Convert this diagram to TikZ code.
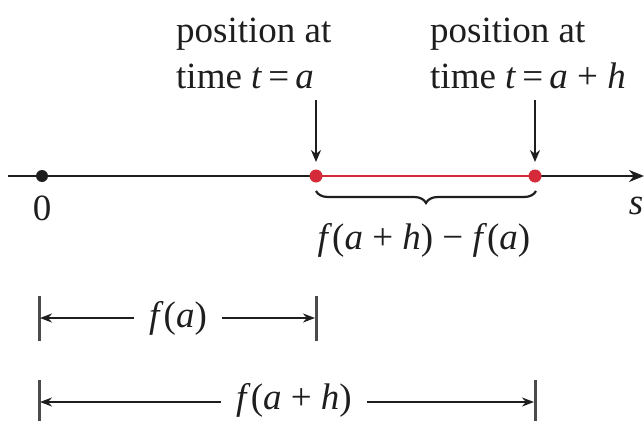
\documentclass[tikz,border=0pt]{standalone}
\usepackage{fontspec}
\setmainfont{Liberation Serif}
\usetikzlibrary{arrows.meta,decorations.pathreplacing}
\definecolor{ink}{HTML}{1E1E1E}
\definecolor{segred}{HTML}{D42A3A}
\tikzset{
  txt/.style={font=\fontsize{37}{44}\selectfont, text=ink, inner sep=0pt},
  dimlab/.style={txt, inner xsep=15pt},
  dot/.style={circle, fill=ink, inner sep=0pt, minimum size=12pt},
  rdot/.style={circle, fill=segred, inner sep=0pt, minimum size=13pt},
  axisline/.style={line width=2.4pt, draw=ink},
  ptr/.style={line width=2.2pt, draw=ink, -{Stealth[length=12pt,width=10pt]}},
  dimarrow/.style={line width=2.2pt, draw=ink, -{Stealth[length=12pt,width=9pt]}},
  tick/.style={line width=3pt, draw=ink!80},
}
\begin{document}
\begin{tikzpicture}[x=1pt,y=-1pt]
\useasboundingbox (0,0) rectangle (644,420);
% top labels
\node[txt, anchor=base west] (l1) at (176,43) {position at};
\node[txt, anchor=base west] (l2) at (176,88) {time \textit{t}\,=\,\textit{a}};
\node[txt, anchor=base west] (r1) at (430,43) {position at};
\node[txt, anchor=base west] (r2) at (430,88) {time \textit{t}\,=\,\textit{a} + \textit{h}};
% axis
\coordinate (L) at (8,176);
\coordinate (R) at (644,176);
\draw[axisline, -{Stealth[length=15pt,width=12pt]}] (L) -- (R);
\coordinate (Ap) at (316,176);
\coordinate (Bp) at (535,176);
\draw[line width=2.6pt, segred] (Ap) -- (Bp);
\node[dot] (O) at (42,176) {};
\node[rdot] (A) at (Ap) {};
\node[rdot] (B) at (Bp) {};
\node[txt] (zero) at (42,208) {0};
\node[txt] (s) at (636,206) {\textit{s}};
% pointers
\coordinate (At) at (316,100);
\coordinate (Bt) at (535,100);
\coordinate (Ae) at (316,162);
\coordinate (Be) at (535,162);
\draw[ptr] (At) -- (Ae);
\draw[ptr] (Bt) -- (Be);
% brace
\coordinate (b1) at (316,191);
\coordinate (b2) at (536,191);
\draw[line width=2.2pt, ink, decorate, decoration={brace, mirror, amplitude=12pt}] (b1) -- (b2);
\node[txt] (diff) at (424,240) {\textit{f}(\textit{a} + \textit{h}) − \textit{f}(\textit{a})};
% dimension f(a)
\coordinate (t1a) at (39,296);
\coordinate (t1b) at (39,341);
\coordinate (t2a) at (316,296);
\coordinate (t2b) at (316,341);
\draw[tick] (t1a) -- (t1b);
\draw[tick] (t2a) -- (t2b);
\coordinate (d1l) at (40,318);
\coordinate (d1r) at (315,318);
\node[dimlab] (fa) at (178,318) {\textit{f}(\textit{a})};
\draw[dimarrow] (fa.west |- d1l) -- (d1l);
\draw[dimarrow] (fa.east |- d1r) -- (d1r);
% dimension f(a+h)
\coordinate (t3a) at (39,380);
\coordinate (t3b) at (39,424);
\coordinate (t4a) at (535,380);
\coordinate (t4b) at (535,424);
\draw[tick] (t3a) -- (t3b);
\draw[tick] (t4a) -- (t4b);
\coordinate (d2l) at (40,402);
\coordinate (d2r) at (534,402);
\node[dimlab] (fah) at (294,400) {\textit{f}(\textit{a} + \textit{h})};
\draw[dimarrow] (fah.west |- d2l) -- (d2l);
\draw[dimarrow] (fah.east |- d2r) -- (d2r);
\end{tikzpicture}
\end{document}
